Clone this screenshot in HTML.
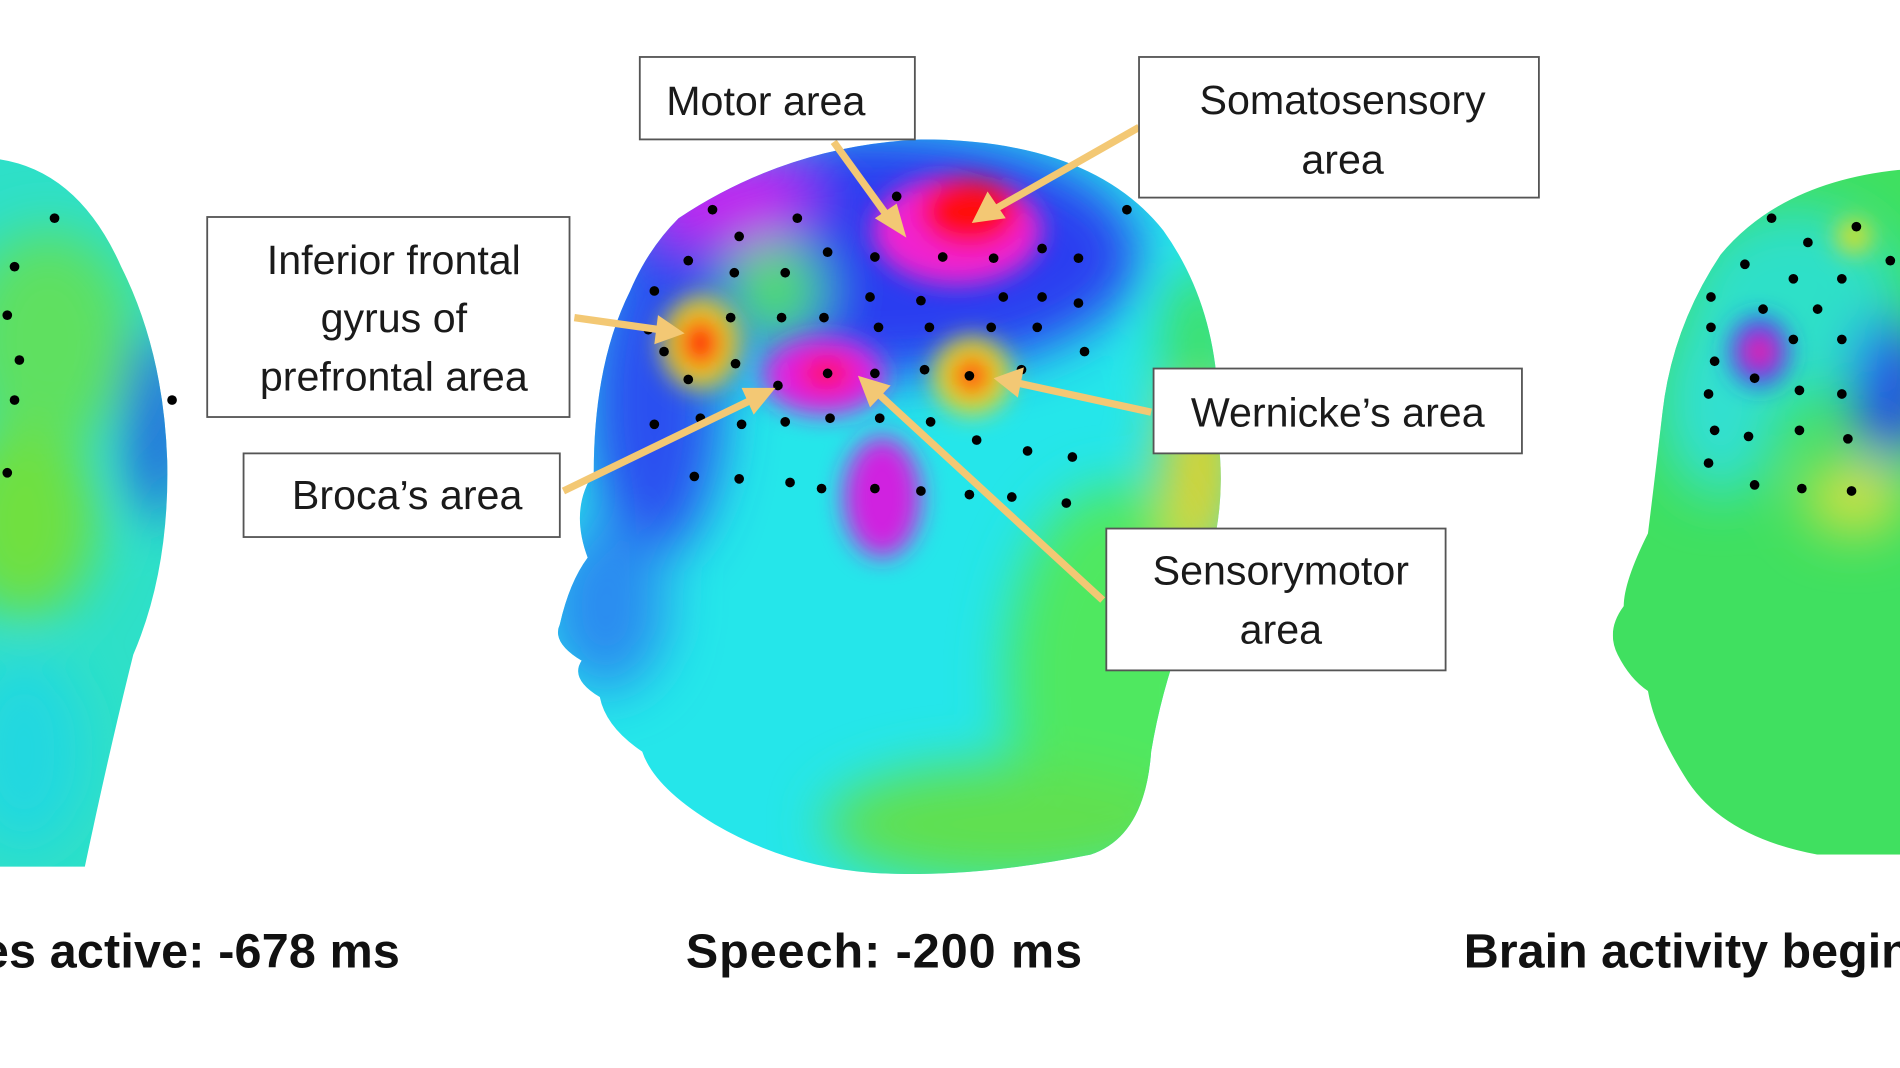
<!DOCTYPE html>
<html><head><meta charset="utf-8"><style>
html,body{margin:0;padding:0;background:#fff;overflow:hidden}
svg{display:block}
</style></head><body>
<svg width="1900" height="1068" viewBox="0 0 1568 881" preserveAspectRatio="none" xmlns="http://www.w3.org/2000/svg">
<defs>
<filter id="b" x="-50%" y="-50%" width="200%" height="200%"><feGaussianBlur stdDeviation="22"/></filter>
<filter id="b2" x="-50%" y="-50%" width="200%" height="200%"><feGaussianBlur stdDeviation="10"/></filter>
<clipPath id="ch"><path d="M560,180 Q650,120 760,115 Q900,115 960,190 Q1010,260 1005,360 Q1015,430 985,500 Q960,560 950,620 Q945,690 900,705 Q800,725 720,720 Q650,715 590,680 Q540,650 530,620 Q500,600 495,575 Q470,560 480,545 Q455,530 462,515 Q470,480 485,460 Q470,420 490,390 Q490,300 520,240 Q535,205 560,180Z"/></clipPath>
<clipPath id="cl"><path d="M-20,130 Q60,130 100,220 Q135,290 138,380 Q140,470 110,540 Q90,620 70,715 L-20,715Z"/></clipPath>
<clipPath id="cr"><path d="M1568,140 Q1470,150 1420,210 Q1380,270 1372,340 Q1365,400 1360,440 Q1340,480 1340,500 Q1325,520 1335,540 Q1345,560 1360,570 Q1365,600 1390,640 Q1420,690 1500,705 L1568,705Z"/></clipPath>
</defs>
<rect width="1568" height="881" fill="#fff"/>
<g clip-path="url(#cl)">
<rect x="-20" y="100" width="200" height="650" fill="#2ee0c8"/>
<g filter="url(#b)">
<ellipse cx="40" cy="280" rx="70" ry="90" fill="#5fe060"/>
<ellipse cx="20" cy="430" rx="60" ry="80" fill="#6fe040"/>
<ellipse cx="130" cy="350" rx="25" ry="80" fill="#2060e0"/>
<ellipse cx="20" cy="620" rx="50" ry="80" fill="#20d8e0"/>
</g>
</g>
<g fill="#000"><circle cx="45" cy="180" r="4"/><circle cx="12" cy="220" r="4"/><circle cx="6" cy="260" r="4"/><circle cx="16" cy="297" r="4"/><circle cx="12" cy="330" r="4"/><circle cx="6" cy="390" r="4"/><circle cx="142" cy="330" r="4"/></g>
<g clip-path="url(#ch)">
<rect x="440" y="100" width="600" height="640" fill="#25e6ea"/>
<g filter="url(#b)">
<ellipse cx="720" cy="210" rx="220" ry="100" fill="#2a3cf0"/>
<ellipse cx="540" cy="330" rx="55" ry="130" fill="#2a50f0"/>
<ellipse cx="600" cy="165" rx="70" ry="40" fill="#c020f0"/>
<ellipse cx="920" cy="560" rx="90" ry="160" fill="#50e860"/>
<ellipse cx="990" cy="380" rx="30" ry="90" fill="#e8d020"/>
<ellipse cx="990" cy="280" rx="30" ry="60" fill="#40e060"/>
<ellipse cx="830" cy="680" rx="150" ry="50" fill="#60e050"/>
<ellipse cx="500" cy="500" rx="50" ry="70" fill="#2a8cf0"/>
<ellipse cx="640" cy="240" rx="40" ry="40" fill="#50e060"/>
</g>
<g filter="url(#b2)">
<ellipse cx="790" cy="190" rx="70" ry="45" fill="#f020d0"/>
<ellipse cx="800" cy="175" rx="40" ry="28" fill="#ff1010"/>
<ellipse cx="578" cy="283" rx="32" ry="38" fill="#e8e020"/>
<ellipse cx="578" cy="283" rx="18" ry="22" fill="#ff1010"/>
<ellipse cx="680" cy="310" rx="50" ry="32" fill="#e020e0"/>
<ellipse cx="682" cy="308" rx="22" ry="14" fill="#ff1060"/>
<ellipse cx="802" cy="310" rx="32" ry="32" fill="#e8e020"/>
<ellipse cx="802" cy="310" rx="16" ry="16" fill="#ff1010"/>
<ellipse cx="728" cy="410" rx="32" ry="50" fill="#d020e0"/>
</g>
</g>
<g fill="#000">
<circle cx="588" cy="173" r="4"/><circle cx="658" cy="180" r="4"/><circle cx="740" cy="162" r="4"/><circle cx="930" cy="173" r="4"/>
<circle cx="568" cy="215" r="4"/><circle cx="610" cy="195" r="4"/><circle cx="683" cy="208" r="4"/><circle cx="722" cy="212" r="4"/><circle cx="778" cy="212" r="4"/><circle cx="820" cy="213" r="4"/><circle cx="860" cy="205" r="4"/><circle cx="890" cy="213" r="4"/>
<circle cx="540" cy="240" r="4"/><circle cx="606" cy="225" r="4"/><circle cx="648" cy="225" r="4"/><circle cx="718" cy="245" r="4"/><circle cx="760" cy="248" r="4"/><circle cx="828" cy="245" r="4"/><circle cx="860" cy="245" r="4"/><circle cx="890" cy="250" r="4"/>
<circle cx="535" cy="272" r="4"/><circle cx="603" cy="262" r="4"/><circle cx="645" cy="262" r="4"/><circle cx="680" cy="262" r="4"/><circle cx="725" cy="270" r="4"/><circle cx="767" cy="270" r="4"/><circle cx="818" cy="270" r="4"/><circle cx="856" cy="270" r="4"/><circle cx="895" cy="290" r="4"/>
<circle cx="548" cy="290" r="4"/><circle cx="568" cy="313" r="4"/><circle cx="607" cy="300" r="4"/><circle cx="642" cy="318" r="4"/><circle cx="683" cy="308" r="4"/><circle cx="722" cy="308" r="4"/><circle cx="763" cy="305" r="4"/><circle cx="800" cy="310" r="4"/><circle cx="843" cy="305" r="4"/>
<circle cx="540" cy="350" r="4"/><circle cx="578" cy="345" r="4"/><circle cx="612" cy="350" r="4"/><circle cx="648" cy="348" r="4"/><circle cx="685" cy="345" r="4"/><circle cx="726" cy="345" r="4"/><circle cx="768" cy="348" r="4"/><circle cx="806" cy="363" r="4"/><circle cx="848" cy="372" r="4"/><circle cx="885" cy="377" r="4"/>
<circle cx="573" cy="393" r="4"/><circle cx="610" cy="395" r="4"/><circle cx="652" cy="398" r="4"/><circle cx="678" cy="403" r="4"/><circle cx="722" cy="403" r="4"/><circle cx="760" cy="405" r="4"/><circle cx="800" cy="408" r="4"/><circle cx="835" cy="410" r="4"/><circle cx="880" cy="415" r="4"/>
</g>
<g clip-path="url(#cr)">
<rect x="1320" y="130" width="260" height="600" fill="#40e060"/>
<g filter="url(#b)">
<ellipse cx="1480" cy="250" rx="90" ry="80" fill="#2ee0c8"/>
<ellipse cx="1420" cy="330" rx="50" ry="80" fill="#30e0d0"/>
<ellipse cx="1560" cy="320" rx="30" ry="60" fill="#2040f0"/>
<ellipse cx="1530" cy="410" rx="40" ry="30" fill="#d8e040"/>
</g>
<g filter="url(#b2)">
<ellipse cx="1452" cy="290" rx="24" ry="28" fill="#3030f0"/>
<ellipse cx="1452" cy="290" rx="12" ry="12" fill="#ff2080"/>
<ellipse cx="1530" cy="195" rx="14" ry="14" fill="#e8e020"/>
</g>
</g>
<g fill="#000"><circle cx="1462" cy="180" r="4"/><circle cx="1532" cy="187" r="4"/><circle cx="1492" cy="200" r="4"/><circle cx="1440" cy="218" r="4"/><circle cx="1480" cy="230" r="4"/><circle cx="1520" cy="230" r="4"/><circle cx="1560" cy="215" r="4"/><circle cx="1412" cy="245" r="4"/><circle cx="1455" cy="255" r="4"/><circle cx="1500" cy="255" r="4"/><circle cx="1412" cy="270" r="4"/><circle cx="1480" cy="280" r="4"/><circle cx="1520" cy="280" r="4"/><circle cx="1415" cy="298" r="4"/><circle cx="1448" cy="312" r="4"/><circle cx="1485" cy="322" r="4"/><circle cx="1520" cy="325" r="4"/><circle cx="1410" cy="325" r="4"/><circle cx="1415" cy="355" r="4"/><circle cx="1443" cy="360" r="4"/><circle cx="1485" cy="355" r="4"/><circle cx="1525" cy="362" r="4"/><circle cx="1410" cy="382" r="4"/><circle cx="1448" cy="400" r="4"/><circle cx="1487" cy="403" r="4"/><circle cx="1528" cy="405" r="4"/></g>
<g stroke="#f3c874" stroke-width="6" fill="#f3c874">
<line x1="688" y1="117" x2="735" y2="182"/><polygon points="748,196 722,180 740,168" stroke="none"/>
<line x1="940" y1="105" x2="822" y2="172"/><polygon points="802,184 815,158 830,180" stroke="none"/>
<line x1="474" y1="262" x2="545" y2="272"/><polygon points="565,275 540,284 543,260" stroke="none"/>
<line x1="465" y1="405" x2="620" y2="330"/><polygon points="640,320 622,342 612,320" stroke="none"/>
<line x1="950" y1="340" x2="840" y2="316"/><polygon points="820,312 845,303 840,328" stroke="none"/>
<line x1="910" y1="495" x2="725" y2="325"/><polygon points="708,310 735,318 718,336" stroke="none"/>
</g>
<g fill="#fff" stroke="#555" stroke-width="1.5">
<rect x="528" y="47" width="227" height="68"/>
<rect x="940" y="47" width="330" height="116"/>
<rect x="171" y="179" width="299" height="165"/>
<rect x="201" y="374" width="261" height="69"/>
<rect x="952" y="304" width="304" height="70"/>
<rect x="913" y="436" width="280" height="117"/>
</g>
<g font-family="Liberation Sans, sans-serif" font-size="34" fill="#1a1a1a" text-anchor="middle">
<text x="632" y="95">Motor area</text>
<text x="1108" y="94">Somatosensory</text><text x="1108" y="143">area</text>
<text x="325" y="226">Inferior frontal</text><text x="325" y="274">gyrus of</text><text x="325" y="322">prefrontal area</text>
<text x="336" y="420">Broca’s area</text>
<text x="1104" y="352">Wernicke’s area</text>
<text x="1057" y="482">Sensorymotor</text><text x="1057" y="531">area</text>
</g>
<g font-family="Liberation Sans, sans-serif" font-size="40" font-weight="bold" fill="#111">
<text x="330" y="798" text-anchor="end" textLength="345">es active: -678 ms</text>
<text x="566" y="798" textLength="327">Speech: -200 ms</text>
<text x="1208" y="798">Brain activity begin</text>
</g>
</svg>
</body></html>
